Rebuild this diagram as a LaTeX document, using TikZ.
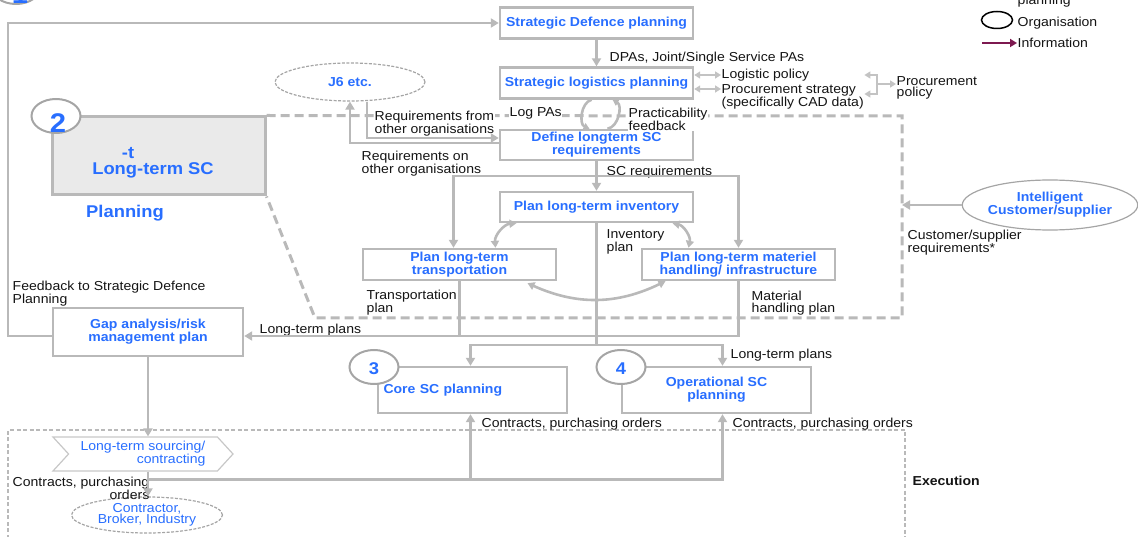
\documentclass[tikz,border=0pt]{standalone}
\usepackage{fontspec}
\setmainfont[FakeStretch=1.08]{Liberation Sans}
\usetikzlibrary{arrows.meta,positioning,calc,shapes.geometric,shapes.symbols}
\definecolor{ink}{RGB}{20,20,20}
\definecolor{wire}{RGB}{185,185,185}
\definecolor{rim}{RGB}{165,165,165}
\definecolor{pale}{RGB}{234,234,234}
\definecolor{tblue}{RGB}{40,110,255}
\definecolor{info}{RGB}{125,25,80}
\newcommand\lfont{\fontsize{13}{11.5}\selectfont}
\tikzset{
  every picture/.style={x=1pt, y=-1pt, color=ink, font=\lfont},
  proc/.style={draw=wire, line width=2.4pt, fill=white, inner sep=1pt, minimum width=193pt, minimum height=31pt, align=center, text=tblue, font=\lfont\bfseries},
  ltbox/.style={draw=wire, line width=3pt, fill=pale, minimum width=213pt, minimum height=78pt},
  org/.style={ellipse, draw=rim, line width=1.2pt, inner sep=0pt, align=center, text=tblue, font=\lfont\bfseries},
  orgdash/.style={org, dash pattern=on 3pt off 1.5pt},
  sig/.style={signal, signal from=west, signal to=east, signal pointer angle=95, draw=wire!80, line width=1.2pt, minimum width=180pt, minimum height=34pt, inner sep=1pt, align=right, text=tblue, font=\lfont},
  numring/.style={ellipse, draw=rim, line width=2pt, fill=white, minimum width=49pt, minimum height=34pt},
  numtxt/.style={inner sep=0pt, text=tblue, font=\fontsize{17}{17}\selectfont\bfseries},
  bigtxt/.style={inner sep=0pt, text=tblue, font=\fontsize{17}{17}\selectfont\bfseries},
  lbl/.style={inner sep=0.5pt, align=left, font=\lfont},
  lblw/.style={lbl, fill=white},
  wireline/.style={draw=wire, line width=2.6pt},
  flow/.style={wireline, -{Triangle[length=8pt,width=9pt]}},
  smallflow/.style={wireline, -{Triangle[length=6pt,width=7pt]}},
  twoway/.style={wireline, {Triangle[length=7pt,width=8pt]}-{Triangle[length=7pt,width=8pt]}},
  thinway/.style={draw=wire!85, line width=2pt, {Triangle[length=6pt,width=7pt]}-{Triangle[length=6pt,width=7pt]}},
  thinflow/.style={draw=wire!85, line width=2pt, -{Triangle[length=6pt,width=7pt]}},
  dashreg/.style={draw=wire, line width=3pt, dash pattern=on 9pt off 5pt},
  execframe/.style={draw=wire, line width=1.3pt, dash pattern=on 4pt off 2.5pt},
  legring/.style={ellipse, draw=black, line width=1.5pt, minimum width=31pt, minimum height=17pt},
  infoflow/.style={draw=info, line width=2pt, -{Triangle[length=7pt,width=8pt]}},
}

\begin{document}
\begin{tikzpicture}
  \useasboundingbox (0,0) rectangle (1138,537);
  \coordinate (rtop) at (902,116);
  \coordinate (rbot) at (902,318);
  \coordinate (lbot) at (315,318);
  \coordinate (fbcorner) at (8,23);
  \node[ltbox] (lt) at (158.5,156) {};
  \draw[dashreg] (lt.north east) -- (rtop) -- (rbot) -- (lbot) -- (lt.south east);
  \draw[execframe] (8,545) |- (905,430) -- (905,545);

  \node[proc] (sdp) at (596.5,23) {Strategic Defence planning};
  \node[proc] (slp) at (596.5,83) {Strategic logistics planning};
  \node[proc, minimum height=30pt] (dsc) at (596.5,145) {Define longterm SC\\requirements};
  \node[proc, minimum height=30pt] (inv) at (596.5,207) {Plan long-term inventory};
  \node[proc] (trn) at (459.5,264.5) {Plan long-term\\transportation};
  \node[proc] (mat) at (738.5,264.5) {Plan long-term materiel\\handling/ infrastructure};
  \node[proc, minimum width=190pt, minimum height=48pt] (gap) at (148,332) {Gap analysis/risk\\management plan};
  \node[proc, minimum width=189pt, minimum height=46pt, text width=178pt, align=left] (core) at (472.5,390) {Core SC planning};
  \node[proc, minimum width=189pt, minimum height=46pt] (ops) at (716.5,390) {Operational SC\\planning};
  \node[orgdash, minimum width=150pt, minimum height=38pt] (j6) at (350,82) {J6 etc.};
  \node[org, minimum width=150pt, minimum height=50pt] (ics) at (1050,205) {Intelligent\\Customer/supplier};
  \node[orgdash, minimum width=151pt, minimum height=36pt, font=\lfont] (con) at (147,515) {Contractor,\\Broker, Industry};
  \node[sig] (src) at (143,454) {Long-term sourcing/\\contracting};

  \node[numring] (c1) at (16,-13) {};
  \node[numtxt, font=\fontsize{27}{27}\selectfont\bfseries] (n1) at (20,-6) {1};
  \node[numring] (c2) at (56,116) {};
  \node[numtxt, font=\fontsize{27}{27}\selectfont\bfseries] (n2) at (58,123) {2};
  \node[numring] (c3) at (374,367) {};
  \node[numtxt] (n3) at (374,369) {3};
  \node[numring] (c4) at (621,367) {};
  \node[numtxt] (n4) at (621,369) {4};
  \node[bigtxt] (dasht) at (128,153) {-t};
  \node[bigtxt] (ltname) at (153,170) {Long-term SC};
  \node[bigtxt] (ltplan) at (125,213) {Planning};

  \node[lbl, anchor=west] (dpas) at (609,58) {DPAs, Joint/Single Service PAs};
  \node[lbl, anchor=west] (logpol) at (721,75) {Logistic policy};
  \node[lbl, anchor=west] (procstr) at (721,97) {Procurement strategy\\(specifically CAD data)};
  \node[lbl, anchor=west] (procpol) at (896,88) {Procurement\\policy};
  \node[lblw, anchor=west] (logpas) at (509,113) {Log PAs};
  \node[lblw, anchor=west] (pract) at (628,119) {Practicability\\feedback};
  \node[lblw, anchor=west] (rqfrom) at (374,124) {Requirements from\\other organisations};
  \node[lbl, anchor=west] (rqon) at (361,164) {Requirements on\\other organisations};
  \node[lbl, anchor=west] (screq) at (606,172) {SC requirements};
  \node[lbl, anchor=west] (invpl) at (606,242) {Inventory\\plan};
  \node[lbl, anchor=west] (trnpl) at (366,303) {Transportation\\plan};
  \node[lbl, anchor=west] (matpl) at (751,303) {Material\\handling plan};
  \node[lbl, anchor=west] (ltp1) at (259,330) {Long-term plans};
  \node[lbl, anchor=west] (ltp2) at (730,355) {Long-term plans};
  \node[lbl, anchor=west] (fbsdp) at (12,294) {Feedback to Strategic Defence\\Planning};
  \node[lbl, anchor=west] (cpo1) at (481,424) {Contracts, purchasing orders};
  \node[lbl, anchor=west] (cpo2) at (732,424) {Contracts, purchasing orders};
  \node[lbl, anchor=east, align=right] (cpo0) at (150,488) {Contracts, purchasing\\orders};
  \node[lbl, anchor=west] (csreq) at (907,243) {Customer/supplier\\requirements*};
  \node[lbl, anchor=west, font=\lfont\bfseries] (exec) at (912,481) {Execution};

  % legend
  \node[lbl, anchor=west] (legplan) at (1017,1) {planning};
  \node[legring] (legorg) at (997,20) {};
  \node[lbl, anchor=west] (legorgt) at (1017,23) {Organisation};
  \node[lbl, anchor=west] (leginfo) at (1017,43) {Information};
  \coordinate (leginfoa) at (982,43);
  \draw[infoflow] (leginfoa) -- (leginfo.west);

  % flows
  \draw[flow] ([yshift=-4pt]gap.west) -| (fbcorner) -- (sdp.west);
  \draw[flow] (sdp) -- (slp);
  \draw[thinway] ([yshift=8pt]slp.east) -- ([yshift=8pt]slp.east -| logpol.west);
  \draw[thinway] ([yshift=-6pt]slp.east) -- ([yshift=-6pt]slp.east -| procstr.west);
  \coordinate (brk) at (877,84);
  \draw[thinflow] (brk) -- (brk -| procpol.west);
  \draw[thinflow] (brk) |- (procstr.east |- logpol.east);
  \draw[thinflow] (brk) |- ([yshift=3pt]procstr.east);
  \draw[smallflow] ([xshift=-5pt]slp.south) to[bend right=70] ([xshift=-7pt]dsc.north);
  \draw[smallflow] ([xshift=11pt]dsc.north) to[bend right=70] ([xshift=16pt]slp.south);
  \draw[flow] ([xshift=17pt]j6.south) |- ([yshift=7pt]dsc.west);
  \draw[flow] ([yshift=2pt]dsc.west) -| (j6.south);
  \coordinate (scsplit) at ($(dsc.south)!0.5!(inv.north)$);
  \draw[flow] (dsc) -- (inv);
  \draw[flow] (scsplit) -| ([xshift=-6pt]trn.north);
  \draw[flow] (scsplit) -| (mat.north);
  \draw[twoway] ([xshift=-80pt]inv.south) to[bend right=45] ([xshift=36pt]trn.north);
  \draw[twoway] ([xshift=76pt]inv.south) to[bend left=45] ([xshift=-50pt]mat.north);
  \draw[twoway] ([xshift=68pt,yshift=-2pt]trn.south) to[bend right=25] ([xshift=-73pt]mat.south);
  \coordinate (lpy) at ([yshift=-4pt]gap.east);
  \draw[flow] (mat.south) |- (lpy);
  \draw[wireline] (trn.south) -- (trn.south |- lpy);
  \coordinate (opsplit) at ($(inv.south)+(0,122)$);
  \draw[wireline] (inv.south) -- (opsplit);
  \draw[flow] (opsplit) -| ([xshift=-2pt]core.north);
  \draw[flow] (opsplit) -| ([xshift=6pt]ops.north);
  \draw[flow] (gap.south) -- (gap.south |- src.north);
  \draw[flow] (gap.south |- src.south) -- (gap.south |- con.north);
  \coordinate (ctrsplit) at ($(gap.south |- src.south)+(0,8)$);
  \draw[flow] (ctrsplit) -| ([xshift=-2pt]core.south);
  \draw[flow] (ctrsplit) -| ([xshift=6pt]ops.south);
  \draw[flow] (ics.west) -- (ics.west -| rtop);
\end{tikzpicture}
\end{document}
